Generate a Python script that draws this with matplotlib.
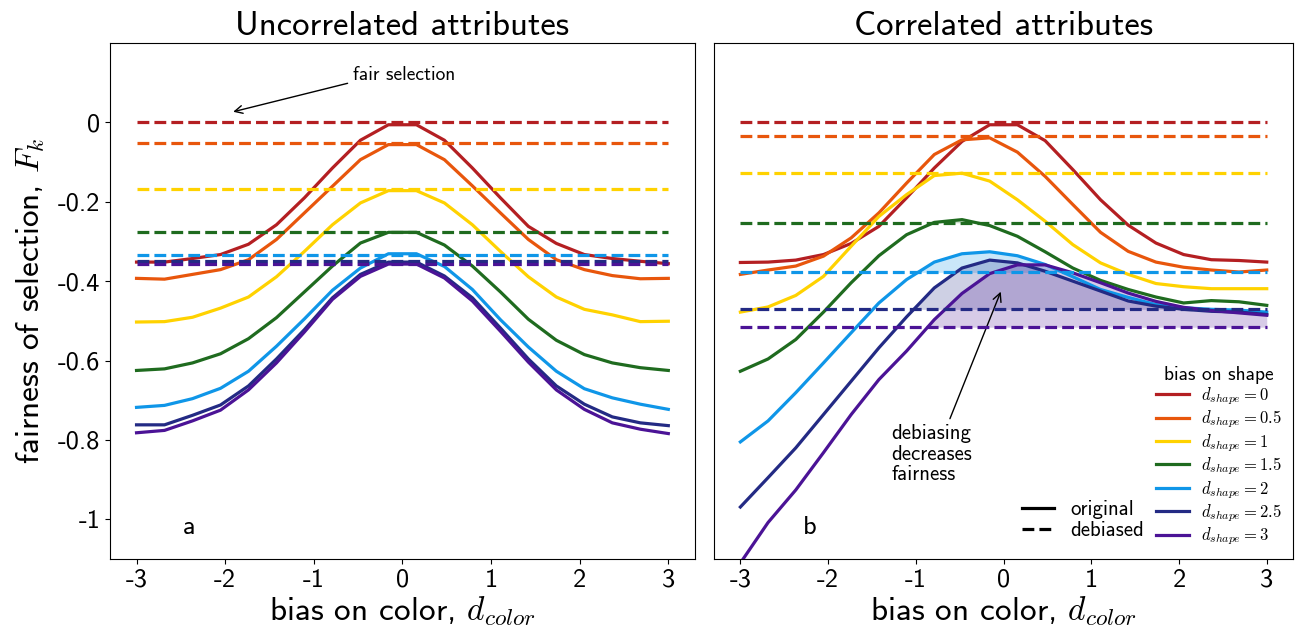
import numpy as np
import matplotlib
matplotlib.use('Agg')
import matplotlib.pyplot as plt
from matplotlib.lines import Line2D

plt.rcParams['font.family'] = ['cmss10', 'DejaVu Sans']
plt.rcParams['mathtext.fontset'] = 'cm'
plt.rcParams['axes.unicode_minus'] = False

# grid of bias on color (20 points from -3 to 3)
d_color = np.linspace(-3, 3, 20)

d_shape_labels = ['0', '0.5', '1', '1.5', '2', '2.5', '3']
cores = ['#b41f22', '#e8560c', '#ffd200', '#1f6b1f', '#0f96e8', '#232a84', '#4b1396']

# painel a: atributos nao correlacionados
orig_a = [
    [-0.352, -0.352, -0.343, -0.333, -0.307, -0.258, -0.190, -0.115, -0.045, -0.006,
     -0.006, -0.045, -0.115, -0.190, -0.262, -0.305, -0.333, -0.343, -0.350, -0.356],
    [-0.393, -0.395, -0.383, -0.371, -0.346, -0.295, -0.228, -0.161, -0.094, -0.056,
     -0.056, -0.094, -0.160, -0.228, -0.295, -0.346, -0.371, -0.386, -0.394, -0.393],
    [-0.503, -0.502, -0.491, -0.468, -0.440, -0.389, -0.325, -0.258, -0.203, -0.172,
     -0.172, -0.203, -0.258, -0.325, -0.389, -0.440, -0.471, -0.485, -0.502, -0.501],
    [-0.625, -0.621, -0.606, -0.583, -0.545, -0.492, -0.427, -0.362, -0.304, -0.277,
     -0.277, -0.309, -0.362, -0.427, -0.496, -0.549, -0.585, -0.606, -0.618, -0.625],
    [-0.718, -0.713, -0.696, -0.670, -0.627, -0.564, -0.495, -0.423, -0.367, -0.331,
     -0.331, -0.363, -0.421, -0.497, -0.566, -0.627, -0.671, -0.694, -0.710, -0.723],
    [-0.762, -0.762, -0.738, -0.712, -0.664, -0.596, -0.522, -0.442, -0.383, -0.352,
     -0.352, -0.387, -0.442, -0.518, -0.596, -0.664, -0.710, -0.742, -0.757, -0.764],
    [-0.782, -0.776, -0.752, -0.725, -0.674, -0.606, -0.528, -0.446, -0.388, -0.357,
     -0.357, -0.392, -0.450, -0.526, -0.604, -0.674, -0.723, -0.757, -0.773, -0.784],
]
deb_a = [0.0, -0.052, -0.167, -0.276, -0.334, -0.350, -0.356]

# painel b: atributos correlacionados
orig_b = [
    [-0.353, -0.352, -0.347, -0.333, -0.305, -0.262, -0.190, -0.115, -0.048, -0.006,
     -0.006, -0.046, -0.119, -0.195, -0.259, -0.304, -0.333, -0.346, -0.348, -0.352],
    [-0.383, -0.372, -0.362, -0.337, -0.291, -0.228, -0.153, -0.081, -0.044, -0.039,
     -0.075, -0.136, -0.207, -0.277, -0.325, -0.352, -0.365, -0.372, -0.377, -0.372],
    [-0.478, -0.465, -0.436, -0.388, -0.312, -0.237, -0.182, -0.134, -0.128, -0.148,
     -0.195, -0.249, -0.308, -0.354, -0.383, -0.406, -0.414, -0.419, -0.419, -0.419],
    [-0.627, -0.596, -0.547, -0.478, -0.404, -0.336, -0.283, -0.252, -0.245, -0.260,
     -0.287, -0.326, -0.367, -0.398, -0.421, -0.440, -0.455, -0.449, -0.452, -0.461],
    [-0.805, -0.752, -0.681, -0.606, -0.530, -0.455, -0.396, -0.352, -0.331, -0.326,
     -0.336, -0.358, -0.389, -0.421, -0.441, -0.459, -0.467, -0.471, -0.473, -0.478],
    [-0.969, -0.895, -0.820, -0.736, -0.652, -0.568, -0.490, -0.417, -0.367, -0.347,
     -0.354, -0.375, -0.400, -0.425, -0.450, -0.463, -0.471, -0.476, -0.478, -0.484],
    [-1.110, -1.008, -0.926, -0.832, -0.736, -0.648, -0.576, -0.497, -0.431, -0.381,
     -0.359, -0.359, -0.379, -0.404, -0.430, -0.451, -0.466, -0.474, -0.480, -0.486],
]
deb_b = [0.0, -0.034, -0.128, -0.253, -0.378, -0.471, -0.516]

yticks = [0, -0.2, -0.4, -0.6, -0.8, -1]
ytick_labels = ['0', '-0.2', '-0.4', '-0.6', '-0.8', '-1']
xticks = [-3, -2, -1, 0, 1, 2, 3]
xtick_labels = ['-3', '-2', '-1', '0', '1', '2', '3']

fig = plt.figure(figsize=(12.95, 6.33), dpi=100)
ax1 = fig.add_axes([0.0849, 0.1169, 0.4517, 0.8152])
ax2 = fig.add_axes([0.5514, 0.1169, 0.4471, 0.8152])

for ax, orig, deb, titulo in [(ax1, orig_a, deb_a, 'Uncorrelated attributes'),
                              (ax2, orig_b, deb_b, 'Correlated attributes')]:
    for i in range(len(cores)):
        y = np.array(orig[i])
        ax.plot(d_color, y, color=cores[i], lw=2.3, zorder=3,
                label=r'$d_{shape} = ' + d_shape_labels[i] + '$')
        ax.plot(d_color, np.full_like(d_color, deb[i]), color=cores[i], lw=2.3,
                ls='--', zorder=4)
        if ax is ax2:
            ax.fill_between(d_color, deb[i], y, where=y > deb[i], interpolate=True,
                            color=cores[i], alpha=0.22, lw=0, zorder=1)
    ax.set_xlim(-3.3, 3.3)
    ax.set_ylim(-1.1, 0.2)
    ax.set_xticks(xticks)
    ax.set_xticklabels(xtick_labels, fontsize=19)
    ax.set_title(titulo, fontsize=25, pad=6)
    ax.set_xlabel(r'bias on color, $d_{color}$', fontsize=24, labelpad=2)

ax1.set_yticks(yticks)
ax1.set_yticklabels(ytick_labels, fontsize=19)
ax1.set_ylabel(r'fairness of selection, $F_k$', fontsize=24, labelpad=8)
ax2.set_yticks([])

ax1.text(-2.41, -1.02, 'a', fontsize=19, ha='center', va='center')
ax2.text(-2.21, -1.02, 'b', fontsize=19, ha='center', va='center')

ax1.annotate('fair selection', xy=(-1.94, 0.025), xytext=(0.02, 0.12),
             fontsize=14, ha='center', va='center',
             arrowprops=dict(arrowstyle='->', color='black', lw=1, relpos=(0, 0.1)))
ax2.annotate('debiasing\ndecreases\nfairness', xy=(-0.02, -0.42), xytext=(-1.28, -0.76),
             fontsize=15, ha='left', va='top', linespacing=1.1,
             arrowprops=dict(arrowstyle='->', color='black', lw=1, relpos=(0.7, 1)))

leg1 = ax2.legend(loc='lower right', title='bias on shape', frameon=False,
                  fontsize=12, title_fontsize=14, handlelength=2.0,
                  handletextpad=0.7, borderaxespad=0.3, labelspacing=0.1)
ax2.add_artist(leg1)
estilos = [Line2D([], [], color='black', lw=2.3, ls='-'),
           Line2D([], [], color='black', lw=2.3, ls='--')]
ax2.legend(estilos, ['original', 'debiased'], loc='lower left',
           bbox_to_anchor=(0.5, 0.0), frameon=False, fontsize=15,
           handlelength=1.5, labelspacing=0.1)

fig.savefig('out.png', dpi=100)
